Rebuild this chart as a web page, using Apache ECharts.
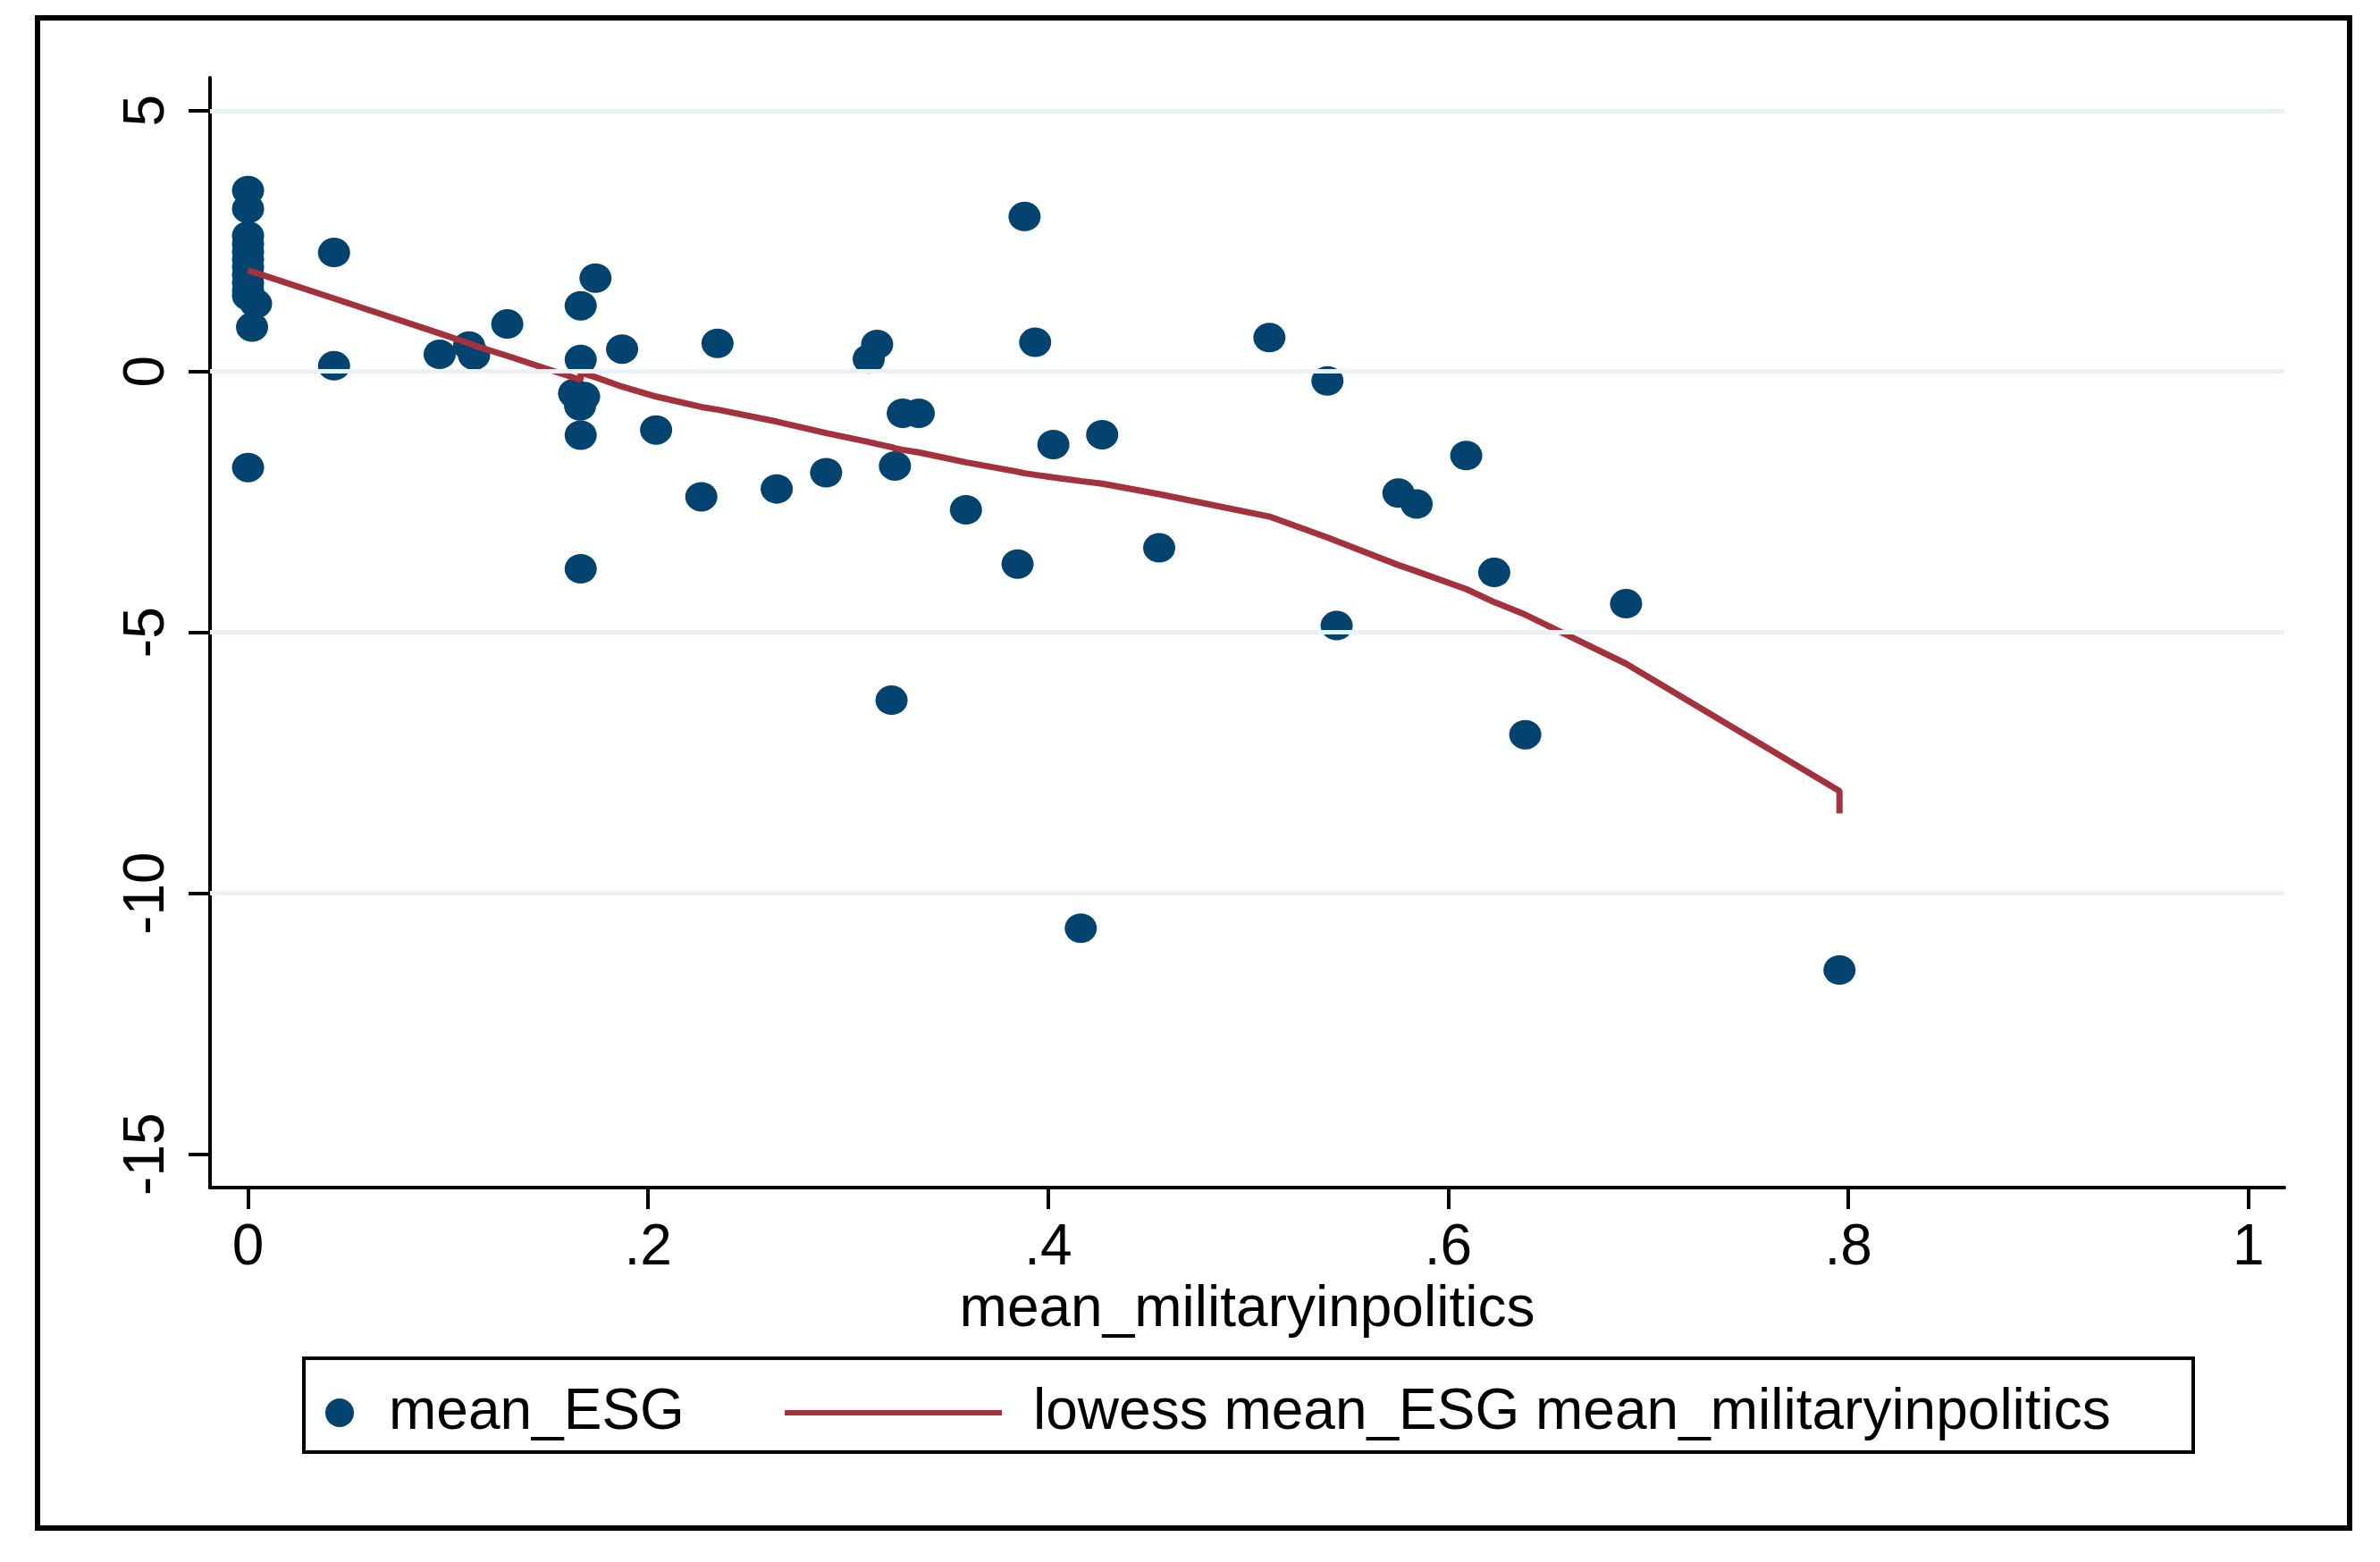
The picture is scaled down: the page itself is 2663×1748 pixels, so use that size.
<!DOCTYPE html>
<html>
<head>
<meta charset="utf-8">
<script src="https://cdn.jsdelivr.net/npm/echarts@6/dist/echarts.min.js"></script>
<style>
html,body{margin:0;padding:0;background:#fff;}
#c{width:2663px;height:1748px;}
</style>
</head>
<body>
<div id="c"></div>
<script>
// ---- data ----
var esgX = [0,0,0,0,0,0,0,0,0,0,0,0.004,0.002,0,
  0.043,0.043,0.0958,0.1105,0.113,0.1296,0.1663,0.1737,0.1663,0.187,0.163,0.168,0.166,0.1663,0.1663,
  0.204,0.2347,0.2266,0.2643,0.289,0.3103,0.3145,0.3273,0.3353,0.3234,0.3217,0.3589,0.3847,0.3882,
  0.3935,0.4026,0.427,0.4163,0.4555,0.5106,0.5396,0.5442,0.5751,0.5842,0.609,0.623,0.6385,0.6889,0.7956];
var esgY = [3.47,3.12,2.60,2.45,2.30,2.15,2.00,1.85,1.70,1.55,1.45,1.30,0.85,-1.84,
  2.28,0.11,0.33,0.49,0.31,0.91,1.26,1.79,0.23,0.43,-0.42,-0.48,-0.66,-1.22,-3.78,
  -1.12,0.54,-2.40,-2.25,-1.94,0.24,0.52,-0.80,-0.80,-1.81,-6.30,-2.65,-3.69,2.97,
  0.56,-1.40,-1.21,-10.67,-3.38,0.65,-0.18,-4.87,-2.33,-2.54,-1.61,-3.85,-6.96,-4.45,-11.47];
var lowX = [0,0.002,0.004,0.043,0.0958,0.1105,0.113,0.1296,0.163,0.1663,0.1663,0.168,0.1737,0.187,
  0.204,0.2266,0.2347,0.2643,0.289,0.3103,0.3145,0.3217,0.3234,0.3273,0.3353,0.3589,0.3847,0.3882,
  0.3935,0.4026,0.4163,0.427,0.4555,0.5106,0.5396,0.5442,0.5751,0.5842,0.609,0.623,0.6385,0.6889,
  0.7956,0.7956];
var lowY = [1.94,1.91,1.89,1.40,0.73,0.54,0.50,0.30,-0.12,-0.16,-0.02,-0.04,-0.11,-0.29,
  -0.48,-0.68,-0.73,-0.96,-1.18,-1.35,-1.39,-1.45,-1.47,-1.50,-1.55,-1.74,-1.92,-1.95,
  -1.98,-2.03,-2.10,-2.15,-2.35,-2.78,-3.18,-3.25,-3.71,-3.83,-4.17,-4.42,-4.66,-5.60,
  -8.04,-8.47];
var xTicks = [0,0.2,0.4,0.6,0.8,1];
var yTicks = [5,0,-5,-10,-15];
var yGrid = [5,0,-5,-10];
var seriesNames = ['mean_ESG','lowess mean_ESG mean_militaryinpolitics'];
var xTitle = 'mean_militaryinpolitics';

var FONT = 'Liberation Sans, Arial, sans-serif';
var FS = 64;
function pairs(a,b){var r=[];for(var i=0;i<a.length;i++)r.push([a[i],b[i]]);return r;}
function xfmt(v){ if (Math.abs(v)<1e-9) return '0'; if (Math.abs(v-1)<1e-9) return '1'; return String(+v.toFixed(1)).replace(/^0\./,'.'); }

var chart = echarts.init(document.getElementById('c'), null, {renderer:'canvas'});
chart.setOption({
  animation:false,
  backgroundColor:'#ffffff',
  textStyle:{fontFamily:FONT},
  grid:{left:235, right:107, top:87, bottom:419, containLabel:false},
  xAxis:{
    type:'value', min:-0.019, max:1.018,
    name:xTitle, nameLocation:'middle', nameGap:83,
    nameTextStyle:{fontFamily:FONT, fontSize:FS, color:'#000'},
    axisLine:{show:true, onZero:false, lineStyle:{color:'#000', width:4}},
    axisTick:{show:true, length:24, lineStyle:{color:'#000', width:4}, customValues:xTicks},
    axisLabel:{show:true, fontFamily:FONT, fontSize:FS, color:'#000', margin:36, customValues:xTicks, formatter:xfmt},
    splitLine:{show:false}
  },
  yAxis:{
    type:'value', min:-15.64, max:5.63,
    axisLine:{show:true, onZero:false, lineStyle:{color:'#000', width:4}},
    axisTick:{show:true, length:24, lineStyle:{color:'#000', width:4}, customValues:yTicks},
    axisLabel:{show:true, fontFamily:FONT, fontSize:FS, color:'#000', margin:38, rotate:90, customValues:yTicks, formatter:function(v){return String(v);}},
    splitLine:{show:false}
  },
  legend:[
    {data:[{name:seriesNames[0], icon:'circle'}], left:364, top:1549, itemWidth:32, itemHeight:34, padding:0,
     textStyle:{fontFamily:FONT, fontSize:FS, color:'#000', padding:[0,0,0,34]}, selectedMode:false},
    {data:[{name:seriesNames[1], icon:'rect'}], left:878, top:1549, itemWidth:243, itemHeight:6, padding:0,
     textStyle:{fontFamily:FONT, fontSize:FS, color:'#000', padding:[0,0,0,30]}, selectedMode:false}
  ],
  graphic:[
    {type:'rect', shape:{x:42, y:20, width:2587, height:1690}, style:{fill:'none', stroke:'#000', lineWidth:6}, silent:true, z:-1},
    {type:'rect', shape:{x:340, y:1520, width:2114, height:105}, style:{fill:'none', stroke:'#000', lineWidth:4}, silent:true, z:-1}
  ],
  series:[
    {type:'line', name:'grid', data:[], silent:true, z:1, symbol:'none',
     markLine:{silent:true, symbol:['none','none'], label:{show:false}, animation:false,
       lineStyle:{color:'#eaf2f3', width:5, type:'solid'},
       data:yGrid.map(function(v){return {yAxis:v};})}},
    {type:'scatter', name:seriesNames[0], data:pairs(esgX,esgY), symbol:'circle', symbolSize:[36,33],
     itemStyle:{color:'#02446f', opacity:1}, z:3},
    {type:'line', name:seriesNames[1], data:pairs(lowX,lowY), symbol:'none', showSymbol:false,
     lineStyle:{color:'#a3323c', width:7}, itemStyle:{color:'#a3323c'}, z:4}
  ]
});
</script>
</body>
</html>
